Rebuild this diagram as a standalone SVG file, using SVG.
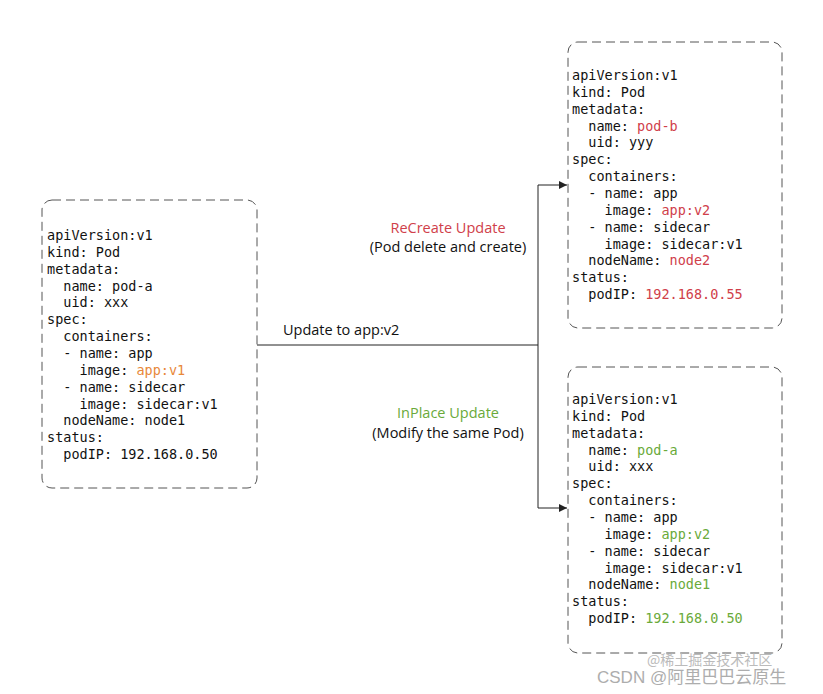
<svg xmlns="http://www.w3.org/2000/svg" width="823" height="694" viewBox="0 0 823 694">
<style>
.box{fill:none;stroke:#555;stroke-width:1;stroke-dasharray:9,5}
.c{font-family:"DejaVu Sans Mono","Liberation Mono",monospace;font-size:13.5px;fill:#111}
.l{font-family:"Open Sans","Liberation Sans",sans-serif;font-size:14.5px;fill:#111}
.r{fill:#d0404a}.o{fill:#e8883a}.g{fill:#6aaa3a}
.ln{fill:none;stroke:#222;stroke-width:1}
</style>
<defs><marker id="a" markerWidth="8" markerHeight="8" refX="8" refY="4" orient="auto" markerUnits="userSpaceOnUse"><path d="M0,0L8,4L0,8z" fill="#222"/></marker></defs>
<rect width="823" height="694" fill="#fff"/>
<g id="podA">
<rect class="box" x="42" y="200" width="215" height="288" rx="10"/>
<text class="c" x="47" y="240" xml:space="preserve"><tspan x="47" dy="0">apiVersion:v1</tspan><tspan x="47" dy="16.85">kind: Pod</tspan><tspan x="47" dy="16.85">metadata:</tspan><tspan x="47" dy="16.85">  name: pod-a</tspan><tspan x="47" dy="16.85">  uid: xxx</tspan><tspan x="47" dy="16.85">spec:</tspan><tspan x="47" dy="16.85">  containers:</tspan><tspan x="47" dy="16.85">  - name: app</tspan><tspan x="47" dy="16.85">    image: <tspan class="o">app:v1</tspan></tspan><tspan x="47" dy="16.85">  - name: sidecar</tspan><tspan x="47" dy="16.85">    image: sidecar:v1</tspan><tspan x="47" dy="16.85">  nodeName: node1</tspan><tspan x="47" dy="16.85">status:</tspan><tspan x="47" dy="16.85">  podIP: 192.168.0.50</tspan></text>
</g>
<g id="podB">
<rect class="box" x="568" y="42" width="214" height="286" rx="10"/>
<text class="c" x="572" y="80" xml:space="preserve"><tspan x="572" dy="0">apiVersion:v1</tspan><tspan x="572" dy="16.85">kind: Pod</tspan><tspan x="572" dy="16.85">metadata:</tspan><tspan x="572" dy="16.85">  name: <tspan class="r">pod-b</tspan></tspan><tspan x="572" dy="16.85">  uid: yyy</tspan><tspan x="572" dy="16.85">spec:</tspan><tspan x="572" dy="16.85">  containers:</tspan><tspan x="572" dy="16.85">  - name: app</tspan><tspan x="572" dy="16.85">    image: <tspan class="r">app:v2</tspan></tspan><tspan x="572" dy="16.85">  - name: sidecar</tspan><tspan x="572" dy="16.85">    image: sidecar:v1</tspan><tspan x="572" dy="16.85">  nodeName: <tspan class="r">node2</tspan></tspan><tspan x="572" dy="16.85">status:</tspan><tspan x="572" dy="16.85">  podIP: <tspan class="r">192.168.0.55</tspan></tspan></text>
</g>
<g id="podA2">
<rect class="box" x="568" y="367" width="214" height="286" rx="10"/>
<text class="c" x="572" y="404" xml:space="preserve"><tspan x="572" dy="0">apiVersion:v1</tspan><tspan x="572" dy="16.85">kind: Pod</tspan><tspan x="572" dy="16.85">metadata:</tspan><tspan x="572" dy="16.85">  name: <tspan class="g">pod-a</tspan></tspan><tspan x="572" dy="16.85">  uid: xxx</tspan><tspan x="572" dy="16.85">spec:</tspan><tspan x="572" dy="16.85">  containers:</tspan><tspan x="572" dy="16.85">  - name: app</tspan><tspan x="572" dy="16.85">    image: <tspan class="g">app:v2</tspan></tspan><tspan x="572" dy="16.85">  - name: sidecar</tspan><tspan x="572" dy="16.85">    image: sidecar:v1</tspan><tspan x="572" dy="16.85">  nodeName: <tspan class="g">node1</tspan></tspan><tspan x="572" dy="16.85">status:</tspan><tspan x="572" dy="16.85">  podIP: <tspan class="g">192.168.0.50</tspan></tspan></text>
</g>
<g id="connectors">
<path class="ln" d="M257,345H538"/>
<path class="ln" d="M538,345V185H567" marker-end="url(#a)"/>
<path class="ln" d="M538,345V508H567" marker-end="url(#a)"/>
</g>
<g id="labels">
<text class="l" x="283" y="335">Update to app:v2</text>
<text class="l r" x="448" y="233" text-anchor="middle">ReCreate Update</text>
<text class="l" x="448" y="252" text-anchor="middle">(Pod delete and create)</text>
<text class="l g" x="448" y="418" text-anchor="middle">InPlace Update</text>
<text class="l" x="448" y="438" text-anchor="middle">(Modify the same Pod)</text>
</g>
<text x="647" y="665" font-family="'Noto Sans CJK SC',sans-serif" font-size="14" fill="#bbb">@稀土掘金技术社区</text>
<text x="597" y="683" font-family="'Liberation Sans','Noto Sans CJK SC',sans-serif" font-size="17" fill="#999" opacity="0.8">CSDN @阿里巴巴云原生</text>
</svg>
